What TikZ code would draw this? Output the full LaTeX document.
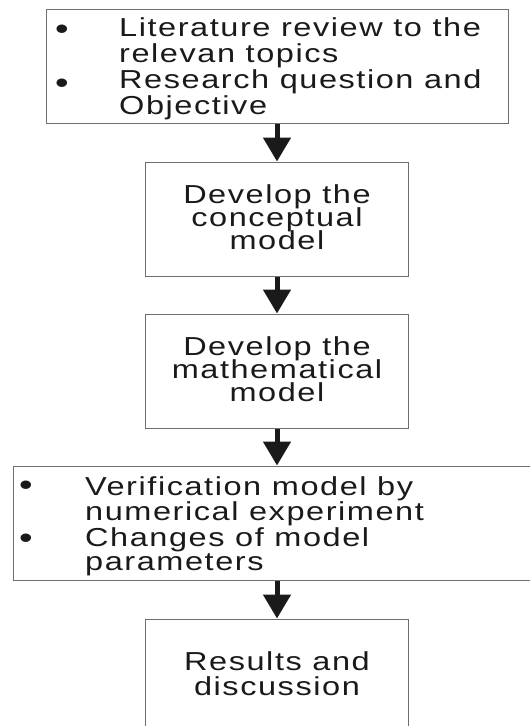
\documentclass[tikz,border=0pt]{standalone}
\usepackage{fontspec}
\setmainfont{Liberation Sans}[FakeStretch=1.25, LetterSpace=6]
\usetikzlibrary{arrows.meta}

\definecolor{ink}{HTML}{1A1A1A}
\definecolor{rule}{HTML}{6E6E6E}

\newcommand{\flowfont}{\fontsize{26}{28}\selectfont}
\newcommand{\dotfont}{\fontsize{31}{31}\selectfont}

\begin{document}
\begin{tikzpicture}[x=1pt, y=-1pt,
  stage/.style={draw=rule, line width=1pt, rectangle, inner sep=0pt},
  txt/.style={inner sep=0pt, anchor=base west, font=\flowfont, text=ink,
              text height=17pt, text depth=4pt},
  ctxt/.style={txt, anchor=base},
  dot/.style={inner sep=0pt, anchor=base, font=\dotfont, text=ink},
  flow/.style={draw=ink, line width=5pt, -{Triangle[width=27pt, length=24pt]}}]

  \useasboundingbox (0,0) rectangle (530,726);
  \clip (0,0) rectangle (530,726);

  % stage boxes
  \node[stage, minimum width=462pt, minimum height=114pt] (b1) at (277,66) {};
  \node[stage, minimum width=263pt, minimum height=114pt] (b2) at (277,219) {};
  \node[stage, minimum width=263pt, minimum height=114pt] (b3) at (277,371) {};
  \node[stage, minimum width=540pt, minimum height=114pt] (b4) at (283,523) {};
  \node[stage, minimum width=263pt, minimum height=124pt] (b5) at (277,681) {};

  % stage 1
  \node[dot] (d1a) at (62,39) {•};
  \node[txt] (t1a) at (119,36) {Literature review to the};
  \node[txt] (t1b) at (119,62) {relevan topics};
  \node[dot] (d1b) at (62,93) {•};
  \node[txt] (t1c) at (119,88) {Research question and};
  \node[txt] (t1d) at (119,114) {Objective};

  % stage 2
  \node[ctxt] (t2a) at (277,203) {Develop the};
  \node[ctxt] (t2b) at (277,226) {conceptual};
  \node[ctxt] (t2c) at (277,249) {model};

  % stage 3
  \node[ctxt] (t3a) at (277,355) {Develop the};
  \node[ctxt] (t3b) at (277,378) {mathematical};
  \node[ctxt] (t3c) at (277,401) {model};

  % stage 4
  \node[dot] (d4a) at (26,495) {•};
  \node[txt] (t4a) at (85,495) {Verification model by};
  \node[txt] (t4b) at (85,520) {numerical experiment};
  \node[dot] (d4b) at (26,548) {•};
  \node[txt] (t4c) at (85,546) {Changes of model};
  \node[txt] (t4d) at (85,570) {parameters};

  % stage 5
  \node[ctxt] (t5a) at (277,670) {Results and};
  \node[ctxt] (t5b) at (277,695) {discussion};

  % connectors
  \draw[flow] (b1.south) -- (b1.south |- b2.north);
  \draw[flow] (b2.south) -- (b2.south |- b3.north);
  \draw[flow] (b3.south) -- (b3.south |- b4.north);
  \draw[flow] (b3.south |- b4.south) -- (b3.south |- b5.north);
\end{tikzpicture}
\end{document}
